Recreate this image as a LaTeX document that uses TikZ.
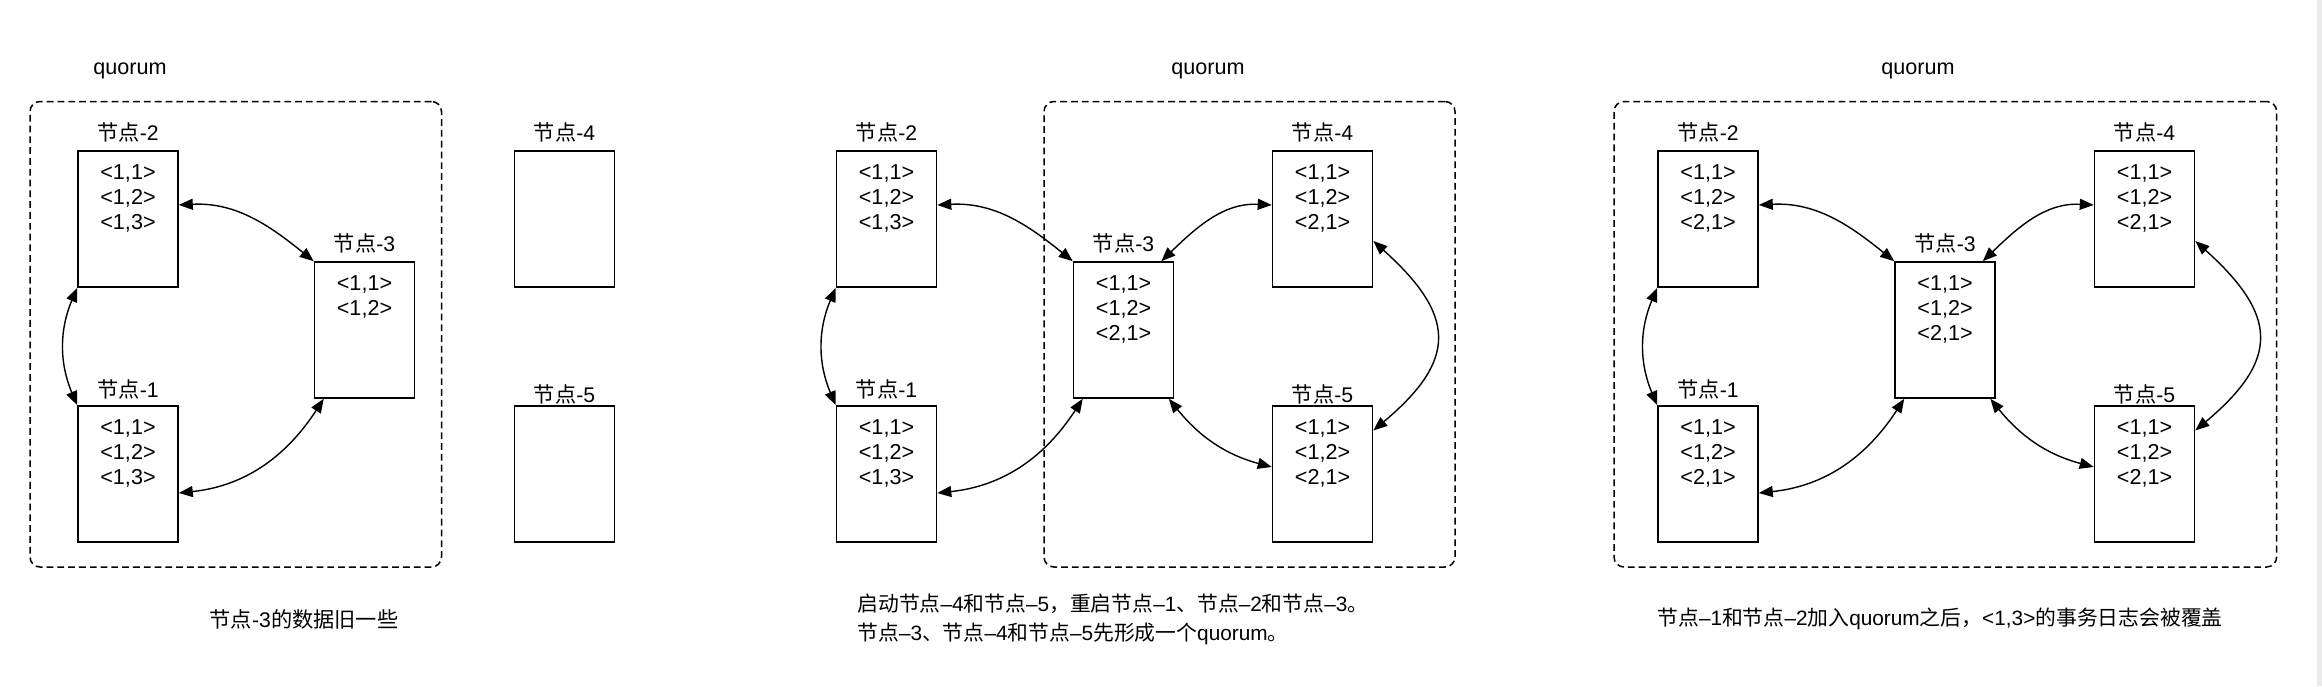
\documentclass[tikz,border=0pt]{standalone}
\usepackage{fontspec}
\setmainfont{Liberation Sans}
\newfontfamily\cjk{Noto Sans CJK SC}
\usetikzlibrary{arrows.meta,positioning}

\tikzset{
	logbox/.style={rectangle,draw,line width=0.8pt,minimum width=50pt,minimum height=68pt,inner sep=0pt},
	logtext/.style={inner sep=0pt,align=center,font=\fontsize{10.8}{12.5}\selectfont},
	nodetitle/.style={inner sep=0pt,font=\fontsize{10.6}{12.5}\selectfont},
	quorumbox/.style={draw,dash pattern=on 3.4pt off 2pt,line width=0.75pt,rounded corners=5pt,inner sep=0pt},
	sync/.style={{Triangle[length=7pt,width=5.5pt]}-{Triangle[length=7pt,width=5.5pt]},line width=0.7pt},
}

\begin{document}
\begin{tikzpicture}[x=0.5pt,y=-0.5pt]
	\useasboundingbox (0,0) rectangle (2322,686);
	\fill[black!8] (2317,0) rectangle (2322,686);

	% left: node-3 is behind
	\node[quorumbox,minimum width=205.75pt,minimum height=232.75pt] (QL) at (235.75,334.25) {};
	\node[nodetitle,font=\fontsize{10.8}{12.5}\selectfont] (QLt) at (130,71) {quorum};
	\node[logbox] (L2) at (128,219) {};
	\node[logbox] (L1) at (128,474) {};
	\node[logbox] (L3) at (364.5,330) {};
	\node[logbox] (L4) at (564.5,219) {};
	\node[logbox] (L5) at (564.5,474) {};
	\node[nodetitle,above=4pt of L2] (L2t) {{\cjk 节点}-2};
	\node[nodetitle,above=3pt of L1] (L1t) {{\cjk 节点}-1};
	\node[nodetitle,above=4pt of L3] (L3t) {{\cjk 节点}-3};
	\node[nodetitle,above=4pt of L4] (L4t) {{\cjk 节点}-4};
	\node[nodetitle,above=0.5pt of L5] (L5t) {{\cjk 节点}-5};
	\node[logtext,below=7pt of L2.north] (L2c) {<1,1>\\<1,2>\\<1,3>};
	\node[logtext,below=7pt of L1.north] (L1c) {<1,1>\\<1,2>\\<1,3>};
	\node[logtext,below=7pt of L3.north] (L3c) {<1,1>\\<1,2>};
	\node[nodetitle] (capL) at (304,619) {{\cjk 节点}-3{\cjk 的数据旧一些}};

	\draw[sync] ([yshift=7pt]L2.east) to[out=3,in=141] (L3.north west);
	\draw[sync] (L2.south west) to[out=247,in=113] (L1.north west);
	\draw[sync] ([yshift=-9.5pt]L1.east) to[out=6,in=237] ([xshift=5pt]L3.south west);

	% middle: node-3, node-4 and node-5 form a quorum
	\node[quorumbox,minimum width=205.5pt,minimum height=232.75pt] (QM) at (1249.5,334.25) {};
	\node[nodetitle,font=\fontsize{10.8}{12.5}\selectfont] (QMt) at (1208,71) {quorum};
	\node[logbox] (M2) at (886.5,219) {};
	\node[logbox] (M1) at (886.5,474) {};
	\node[logbox] (M3) at (1123.5,330) {};
	\node[logbox] (M4) at (1322.5,219) {};
	\node[logbox] (M5) at (1322.5,474) {};
	\node[nodetitle,above=4pt of M2] (M2t) {{\cjk 节点}-2};
	\node[nodetitle,above=3pt of M1] (M1t) {{\cjk 节点}-1};
	\node[nodetitle,above=4pt of M3] (M3t) {{\cjk 节点}-3};
	\node[nodetitle,above=4pt of M4] (M4t) {{\cjk 节点}-4};
	\node[nodetitle,above=0.5pt of M5] (M5t) {{\cjk 节点}-5};
	\node[logtext,below=7pt of M2.north] (M2c) {<1,1>\\<1,2>\\<1,3>};
	\node[logtext,below=7pt of M1.north] (M1c) {<1,1>\\<1,2>\\<1,3>};
	\node[logtext,below=7pt of M3.north] (M3c) {<1,1>\\<1,2>\\<2,1>};
	\node[logtext,below=7pt of M4.north] (M4c) {<1,1>\\<1,2>\\<2,1>};
	\node[logtext,below=7pt of M5.north] (M5c) {<1,1>\\<1,2>\\<2,1>};
	\node[nodetitle,align=left,anchor=west,font=\fontsize{10.4}{14.5}\selectfont] (capM) at (857,619.5)
		{{\cjk 启动节点}–4{\cjk 和节点}–5{\cjk ，重启节点}–1{\cjk 、节点}–2{\cjk 和节点}–3{\cjk 。}\\
		 {\cjk 节点}–3{\cjk 、节点}–4{\cjk 和节点}–5{\cjk 先形成一个}quorum{\cjk 。}};

	\draw[sync] ([yshift=7pt]M2.east) to[out=3,in=141] (M3.north west);
	\draw[sync] (M2.south west) to[out=247,in=113] (M1.north west);
	\draw[sync] ([yshift=-9.5pt]M1.east) to[out=6,in=237] ([xshift=5pt]M3.south west);
	\draw[sync] ([yshift=7pt]M4.west) to[out=177,in=44] ([xshift=-6.5pt]M3.north east);
	\draw[sync] ([xshift=-2.75pt]M3.south east) to[out=309,in=165] ([yshift=3.5pt]M5.west);
	\draw[sync] ([yshift=-11pt]M4.east) to[out=-42,in=40,looseness=1.5] ([yshift=21.75pt]M5.east);

	% right: node-1 and node-2 rejoin
	\node[quorumbox,minimum width=331.3pt,minimum height=232.75pt] (QR) at (1945.3,334.25) {};
	\node[nodetitle,font=\fontsize{10.8}{12.5}\selectfont] (QRt) at (1918,71) {quorum};
	\node[logbox] (R2) at (1708,219) {};
	\node[logbox] (R1) at (1708,474) {};
	\node[logbox] (R3) at (1945,330) {};
	\node[logbox] (R4) at (2144.5,219) {};
	\node[logbox] (R5) at (2144.5,474) {};
	\node[nodetitle,above=4pt of R2] (R2t) {{\cjk 节点}-2};
	\node[nodetitle,above=3pt of R1] (R1t) {{\cjk 节点}-1};
	\node[nodetitle,above=4pt of R3] (R3t) {{\cjk 节点}-3};
	\node[nodetitle,above=4pt of R4] (R4t) {{\cjk 节点}-4};
	\node[nodetitle,above=0.5pt of R5] (R5t) {{\cjk 节点}-5};
	\node[logtext,below=7pt of R2.north] (R2c) {<1,1>\\<1,2>\\<2,1>};
	\node[logtext,below=7pt of R1.north] (R1c) {<1,1>\\<1,2>\\<2,1>};
	\node[logtext,below=7pt of R3.north] (R3c) {<1,1>\\<1,2>\\<2,1>};
	\node[logtext,below=7pt of R4.north] (R4c) {<1,1>\\<1,2>\\<2,1>};
	\node[logtext,below=7pt of R5.north] (R5c) {<1,1>\\<1,2>\\<2,1>};
	\node[nodetitle,font=\fontsize{10.4}{12.5}\selectfont] (capR) at (1940,619)
		{{\cjk 节点}–1{\cjk 和节点}–2{\cjk 加入}quorum{\cjk 之后，}<1,3>{\cjk 的事务日志会被覆盖}};

	\draw[sync] ([yshift=7pt]R2.east) to[out=3,in=141] (R3.north west);
	\draw[sync] (R2.south west) to[out=247,in=113] (R1.north west);
	\draw[sync] ([yshift=-9.5pt]R1.east) to[out=6,in=237] ([xshift=5pt]R3.south west);
	\draw[sync] ([yshift=7pt]R4.west) to[out=177,in=44] ([xshift=-6.5pt]R3.north east);
	\draw[sync] ([xshift=-2.75pt]R3.south east) to[out=309,in=165] ([yshift=3.5pt]R5.west);
	\draw[sync] ([yshift=-11pt]R4.east) to[out=-42,in=40,looseness=1.5] ([yshift=21.75pt]R5.east);
\end{tikzpicture}
\end{document}
